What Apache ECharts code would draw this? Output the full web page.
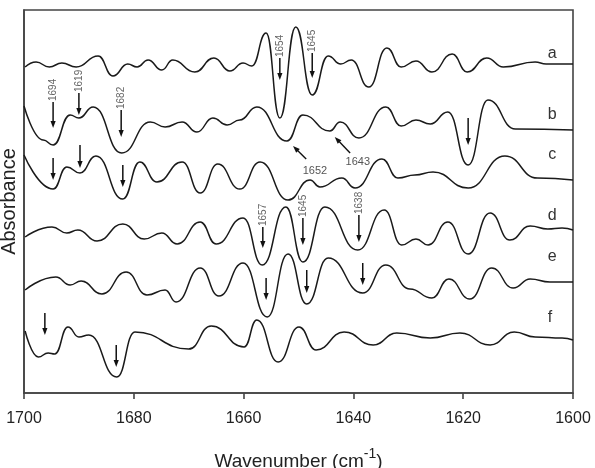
<!DOCTYPE html>
<html>
<head>
<meta charset="utf-8">
<script src="https://cdn.jsdelivr.net/npm/echarts@6/dist/echarts.min.js"></script>
<style>
  html, body { margin: 0; padding: 0; background: #fff; }
  #chart { width: 595px; height: 468px; }
</style>
</head>
<body>
<div id="chart"></div>
<script>
// [wavenumber cm-1, absorbance (arbitrary units, traces stacked)]
const traceA = [
  [1699.8, 326], [1697.8, 331], [1695.4, 326], [1693.1, 330], [1690.5, 326], [1686.5, 337],
  [1683.8, 317], [1681.1, 329], [1679.4, 326], [1677.4, 333], [1674.9, 323], [1672.9, 333],
  [1668.9, 321], [1665.4, 335], [1662.5, 322], [1660.1, 330], [1658.5, 327], [1655.9, 360],
  [1653.4, 275], [1650.5, 366], [1647.5, 298], [1644.6, 337], [1642.3, 329], [1640.4, 333],
  [1637.2, 306], [1633.9, 345], [1631.3, 326], [1628.6, 332], [1625.7, 321], [1622.0, 339],
  [1619.3, 321], [1615.7, 335], [1612.7, 326], [1606.9, 331], [1604.9, 329], [1600.0, 329]
]
const traceB = [
  [1700.0, 287], [1696.5, 253], [1694.7, 248], [1691.6, 278],
  [1690.0, 275], [1687.4, 286], [1682.2, 240], [1677.0, 271],
  [1674.3, 266], [1671.2, 271], [1668.5, 261], [1665.6, 275], [1663.0, 268], [1660.7, 273],
  [1657.6, 286], [1652.1, 252], [1649.2, 278], [1644.3, 262], [1642.4, 271], [1639.0, 255],
  [1634.1, 286], [1631.3, 267], [1628.6, 273], [1626.0, 269], [1622.8, 281], [1619.1, 228],
  [1615.5, 293], [1610.5, 264], [1600.0, 263]
]
const traceC = [
  [1700.0, 238], [1694.7, 204], [1692.2, 226], [1689.8, 220],
  [1686.9, 237], [1682.0, 194], [1678.9, 231], [1675.8, 211], [1671.2, 231], [1667.9, 200],
  [1664.7, 229], [1660.7, 204], [1657.0, 231], [1651.9, 193], [1647.9, 213], [1646.1, 206],
  [1642.1, 215], [1639.7, 205], [1634.8, 234], [1631.9, 215], [1628.8, 218], [1625.5, 221],
  [1619.1, 205], [1612.4, 237], [1606.5, 215], [1600.0, 213]
]
const traceD = [
  [1699.8, 156], [1694.9, 166], [1692.2, 160], [1690.2, 163], [1686.7, 152], [1682.0, 169],
  [1678.1, 154], [1674.9, 160], [1672.1, 149], [1667.9, 171], [1665.0, 149], [1660.1, 175],
  [1656.6, 128], [1652.3, 186], [1649.2, 131], [1645.2, 186], [1639.2, 143], [1634.4, 183],
  [1631.2, 148], [1628.6, 154], [1626.4, 148], [1622.8, 171], [1619.1, 139], [1615.1, 180],
  [1611.5, 153], [1607.8, 167], [1604.6, 164], [1602.0, 165], [1600.0, 163]
]
const traceE = [
  [1699.8, 103], [1694.2, 116], [1691.6, 108], [1689.6, 112], [1685.8, 99],
  [1681.4, 121], [1677.6, 98], [1674.3, 103], [1672.3, 91], [1667.9, 125], [1664.5, 97],
  [1660.1, 130], [1655.7, 76], [1651.9, 139], [1648.5, 89], [1644.6, 135], [1638.3, 100],
  [1634.1, 128], [1629.7, 104], [1625.7, 95], [1622.6, 114], [1618.8, 94], [1614.8, 125],
  [1610.9, 105], [1607.8, 114], [1604.2, 111], [1600.0, 111]
]
const traceF = [
  [1699.8, 62], [1697.4, 36], [1695.6, 40], [1694.4, 39], [1692.0, 66], [1690.0, 56],
  [1688.2, 58], [1683.1, 16], [1679.8, 61], [1670.0, 44],
  [1665.9, 67], [1659.9, 46], [1657.6, 73], [1653.7, 31], [1649.9, 66],
  [1646.8, 43], [1641.7, 61], [1636.4, 48], [1632.1, 60], [1626.0, 55],
  [1620.6, 60], [1615.1, 48], [1610.7, 61], [1606.9, 56], [1602.0, 55], [1600.0, 53]
]

// vertical arrows: [wavenumber, shaft top, tip, label]
const downArrows = [
  [1694.7, 291, 265, '1694'],
  [1690.0, 300, 278, '1619'],
  [1682.3, 283, 256, '1682'],
  [1653.4, 335, 313, '1654'],
  [1647.5, 340, 315, '1645'],
  [1656.5, 166, 145, '1657'],
  [1649.2, 175, 148, '1645'],
  [1639.0, 178, 151, '1638'],
  [1694.7, 235, 213, ''],
  [1689.8, 248, 225, ''],
  [1682.0, 228, 206, ''],
  [1619.1, 275, 248, ''],
  [1655.9, 115, 93, ''],
  [1648.5, 123, 100, ''],
  [1638.3, 130, 108, ''],
  [1696.2, 80, 58, ''],
  [1683.2, 48, 26, '']
]
// slanted arrows: [tail x, tail y, tip x, tip y, label, label x, label y]
const slantArrows = [
  [1648.6, 234, 1651.0, 247, '1652', 1647.0, 222],
  [1640.6, 240, 1643.4, 256, '1643', 1639.2, 231]
]
// trace letters: [wavenumber, y, letter]
const traceNames = [
  [1603.8, 339, 'a'], [1603.8, 278, 'b'], [1603.8, 238, 'c'],
  [1603.8, 177, 'd'], [1603.8, 136, 'e'], [1604.2, 75, 'f']
]

const traces = [traceA, traceB, traceC, traceD, traceE, traceF]
const FONT = '"Liberation Sans", Arial, sans-serif'

const chart = echarts.init(document.getElementById('chart'))

function arrowHead(tip, dx, dy) {
  // dx, dy: unit vector pointing towards tip
  const len = 7, half = 2.6
  const bx = tip[0] - dx * len, by = tip[1] - dy * len
  return [[tip[0], tip[1]], [bx - dy * half, by + dx * half], [bx + dy * half, by - dx * half]]
}

const lineSeries = traces.map(t => ({
  type: 'line', data: t, smooth: 0.5, smoothMonotone: 'x', showSymbol: false, silent: true,
  lineStyle: { color: '#1a1a1a', width: 1.5 }
}))

chart.setOption({
  animation: false,
  grid: {
    left: 24, right: 22, top: 10, bottom: 75, outerBoundsMode: 'none',
    show: true, borderColor: '#444', borderWidth: 1.6
  },
  xAxis: {
    type: 'value', min: 1600, max: 1700, interval: 20, inverse: true,
    name: '{m|Wavenumber (cm}{s|-1}{m|)}',
    nameLocation: 'middle', nameGap: 54,
    nameTextStyle: {
      rich: {
        m: { fontSize: 19, fontFamily: FONT, color: '#222', lineHeight: 24, verticalAlign: 'bottom' },
        s: { fontSize: 14, fontFamily: FONT, color: '#222', lineHeight: 24, verticalAlign: 'top' }
      }
    },
    axisLine: { show: true, lineStyle: { color: '#444', width: 1.6 } },
    axisTick: { show: true, inside: false, length: 6, lineStyle: { color: '#444', width: 1.6 } },
    axisLabel: { fontSize: 16, fontFamily: FONT, color: '#222', margin: 18, formatter: v => String(v) },
    splitLine: { show: false }
  },
  yAxis: {
    type: 'value', min: 0, max: 383,
    name: 'Absorbance', nameLocation: 'middle', nameGap: 5, nameRotate: 90,
    nameTextStyle: { fontSize: 20, fontFamily: FONT, color: '#222' },
    axisLine: { show: true, lineStyle: { color: '#444', width: 1.6 } },
    axisTick: { show: false },
    axisLabel: { show: false },
    splitLine: { show: false }
  },
  series: [
    ...lineSeries,
    {
      type: 'custom', silent: true, clip: false,
      data: downArrows.map(d => [d[0], d[2]]),
      renderItem: (params, api) => {
        const d = downArrows[params.dataIndex]
        const top = api.coord([d[0], d[1]])
        const tip = api.coord([d[0], d[2]])
        const children = [
          { type: 'line', shape: { x1: top[0], y1: top[1], x2: tip[0], y2: tip[1] - 5 },
            style: { stroke: '#111', lineWidth: 1.5 } },
          { type: 'polygon', shape: { points: arrowHead(tip, 0, 1) }, style: { fill: '#111' } }
        ]
        if (d[3]) {
          children.push({
            type: 'text', x: top[0], y: top[1] - 1, rotation: Math.PI / 2,
            style: { text: d[3], fill: '#666', font: '10px ' + FONT, align: 'left', verticalAlign: 'middle' }
          })
        }
        return { type: 'group', children }
      }
    },
    {
      type: 'custom', silent: true, clip: false,
      data: slantArrows.map(d => [d[2], d[3]]),
      renderItem: (params, api) => {
        const d = slantArrows[params.dataIndex]
        const tail = api.coord([d[0], d[1]])
        const tip = api.coord([d[2], d[3]])
        const lx = tip[0] - tail[0], ly = tip[1] - tail[1]
        const l = Math.sqrt(lx * lx + ly * ly)
        const ux = lx / l, uy = ly / l
        const lab = api.coord([d[5], d[6]])
        return {
          type: 'group',
          children: [
            { type: 'line', shape: { x1: tail[0], y1: tail[1], x2: tip[0] - ux * 5, y2: tip[1] - uy * 5 },
              style: { stroke: '#111', lineWidth: 1.4 } },
            { type: 'polygon', shape: { points: arrowHead(tip, ux, uy) }, style: { fill: '#111' } },
            { type: 'text', x: lab[0], y: lab[1],
              style: { text: d[4], fill: '#555', font: '11px ' + FONT, align: 'center', verticalAlign: 'middle' } }
          ]
        }
      }
    },
    {
      type: 'custom', silent: true, clip: false,
      data: traceNames.map(d => [d[0], d[1]]),
      renderItem: (params, api) => {
        const d = traceNames[params.dataIndex]
        const p = api.coord([d[0], d[1]])
        return {
          type: 'text', x: p[0], y: p[1],
          style: { text: d[2], fill: '#333', font: '16px ' + FONT, align: 'center', verticalAlign: 'middle' }
        }
      }
    }
  ]
})
</script>
</body>
</html>
